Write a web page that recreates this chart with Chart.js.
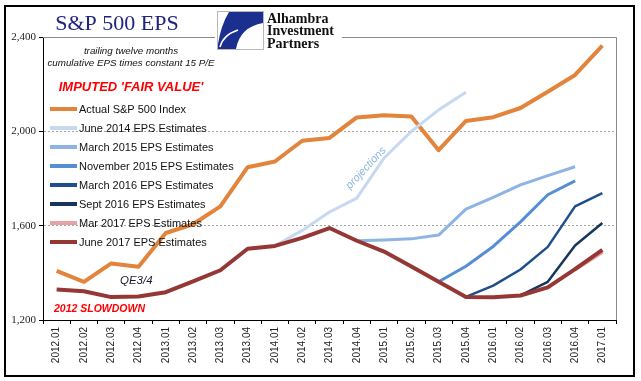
<!DOCTYPE html>
<html>
<head>
<meta charset="utf-8">
<script src="https://cdn.jsdelivr.net/npm/chart.js@4.4.1/dist/chart.umd.min.js"></script>
<style>
  body { margin: 0; background: #fff; }
  #wrap { width: 641px; height: 381px; }
</style>
</head>
<body>
<div id="wrap"><canvas id="chart" width="641" height="381"></canvas></div>
<script>
// quarters on the x axis
const quarters = ["2012.01", "2012.02", "2012.03", "2012.04", "2013.01", "2013.02", "2013.03", "2013.04",
  "2014.01", "2014.02", "2014.03", "2014.04", "2015.01", "2015.02", "2015.03", "2015.04",
  "2016.01", "2016.02", "2016.03", "2016.04", "2017.01"];

const yTicks = [1200, 1600, 2000, 2400];

// quarter-end S&P 500 index
const actualIndex = [1408, 1362, 1440, 1426, 1569, 1606, 1682, 1848, 1872, 1960, 1972, 2059,
  2068, 2063, 1920, 2044, 2060, 2099, 2168, 2239, 2363];

// trailing EPS x 15, by estimate vintage
const estJun2014 = [null, null, null, null, null, null, null, null, 1515, 1580, 1658, 1717,
  1887, 2000, 2091, 2166, null, null, null, null, null];
const estMar2015 = [null, null, null, null, null, null, null, null, null, null, null, 1536,
  1539, 1544, 1560, 1670, 1720, 1773, 1812, 1850, null];
const estNov2015 = [null, null, null, null, null, null, null, null, null, null, null, null,
  null, null, 1362, 1428, 1512, 1616, 1731, 1790, null];
const estMar2016 = [null, null, null, null, null, null, null, null, null, null, null, null,
  null, null, null, 1298, 1346, 1414, 1510, 1682, 1738];
const estSep2016 = [null, null, null, null, null, null, null, null, null, null, null, null,
  null, null, null, null, null, 1304, 1362, 1516, 1611];
const estMar2017 = [null, null, null, null, null, null, null, null, null, null, null, null,
  null, null, null, null, null, null, null, 1416, 1490];
const estJun2017 = [1329, 1322, 1297, 1300, 1318, 1364, 1411, 1502, 1514, 1548, 1590, 1536,
  1490, 1427, 1362, 1298, 1296, 1304, 1338, 1416, 1497];

function series(label, data, color, width, order) {
  return {
    label: label, data: data, borderColor: color, backgroundColor: color,
    borderWidth: width, pointRadius: 0, tension: 0, order: order,
    borderJoinStyle: "round", spanGaps: false
  };
}

const legendBox = {
  id: "legendBox",
  afterDatasetsDraw(chart) {
    const ctx = chart.ctx;
    ctx.save();
    ctx.font = "11px 'Liberation Sans', Arial, sans-serif";
    ctx.textBaseline = "middle";
    chart.data.datasets.forEach(function (ds, i) {
      const y = 109 + i * 19;
      ctx.strokeStyle = ds.borderColor;
      ctx.lineWidth = 4;
      ctx.beginPath();
      ctx.moveTo(50, y);
      ctx.lineTo(77, y);
      ctx.stroke();
      ctx.fillStyle = "#111";
      ctx.fillText(ds.label, 79, y + 0.5);
    });
    ctx.restore();
  }
};

const notes = {
  id: "notes",
  afterDraw(chart) {
    const ctx = chart.ctx;
    const a = chart.chartArea;
    ctx.save();

    // plot frame, top and right
    ctx.strokeStyle = "#8a8a8a";
    ctx.lineWidth = 1;
    ctx.beginPath();
    ctx.moveTo(a.left, Math.round(a.top) + 0.5);
    ctx.lineTo(Math.round(a.right) + 0.5, Math.round(a.top) + 0.5);
    ctx.lineTo(Math.round(a.right) + 0.5, a.bottom);
    ctx.stroke();

    // outer border
    ctx.strokeStyle = "#000";
    ctx.lineWidth = 2;
    ctx.strokeRect(5, 6, 629, 370);

    // title
    ctx.fillStyle = "#20247f";
    ctx.font = "22px 'Liberation Serif', 'DejaVu Serif', serif";
    ctx.textAlign = "center";
    ctx.textBaseline = "alphabetic";
    ctx.fillText("S&P 500 EPS", 117, 30);

    // logo
    ctx.fillStyle = "#fff";
    ctx.fillRect(215, 9, 127, 42);
    ctx.strokeStyle = "#b8b8b8";
    ctx.lineWidth = 1;
    ctx.strokeRect(217.5, 11.5, 46, 38);
    ctx.fillStyle = "#1b2f8f";
    ctx.beginPath();
    ctx.moveTo(229, 12);
    ctx.lineTo(263, 12);
    ctx.lineTo(263, 23);
    ctx.quadraticCurveTo(240, 27, 236, 49);
    ctx.lineTo(218, 49);
    ctx.lineTo(218, 44);
    ctx.quadraticCurveTo(221, 25, 229, 12);
    ctx.closePath();
    ctx.fill();
    ctx.strokeStyle = "#fff";
    ctx.lineWidth = 1.5;
    ctx.beginPath();
    ctx.moveTo(220, 47);
    ctx.quadraticCurveTo(223, 35, 238, 30);
    ctx.stroke();
    ctx.fillStyle = "#111";
    ctx.font = "bold 14px 'Liberation Serif', 'DejaVu Serif', serif";
    ctx.textAlign = "left";
    ctx.fillText("Alhambra", 267, 23);
    ctx.fillText("Investment", 267, 35);
    ctx.fillText("Partners", 267, 48);

    // subtitle notes
    ctx.textAlign = "center";
    ctx.textBaseline = "middle";
    ctx.fillStyle = "#111";
    ctx.font = "italic 9.8px 'Liberation Sans', Arial, sans-serif";
    ctx.fillText("trailing twelve months", 131, 51);
    ctx.fillText("cumulative EPS times constant 15 P/E", 131, 63);
    ctx.fillStyle = "#ff0000";
    ctx.font = "italic bold 13px 'Liberation Sans', Arial, sans-serif";
    ctx.fillText("IMPUTED 'FAIR VALUE'", 131, 87);

    ctx.textAlign = "left";
    ctx.font = "italic bold 10.5px 'Liberation Sans', Arial, sans-serif";
    ctx.fillText("2012 SLOWDOWN", 54, 309);
    ctx.fillStyle = "#1a1a2e";
    ctx.font = "italic 11.5px 'Liberation Sans', Arial, sans-serif";
    ctx.fillText("QE3/4", 120, 281);

    // projections label
    ctx.translate(366, 168);
    ctx.rotate(-47 * Math.PI / 180);
    ctx.textAlign = "center";
    ctx.fillStyle = "#8db4e2";
    ctx.font = "italic 11px 'Liberation Sans', Arial, sans-serif";
    ctx.fillText("projections", 0, 0);
    ctx.restore();
  }
};

new Chart(document.getElementById("chart"), {
  type: "line",
  data: {
    labels: quarters,
    datasets: [
      series("Actual S&P 500 Index", actualIndex, "#e2843b", 4, 7),
      series("June 2014 EPS Estimates", estJun2014, "#c6d9f1", 3, 6),
      series("March 2015 EPS Estimates", estMar2015, "#8db4e2", 3, 5),
      series("November 2015 EPS Estimates", estNov2015, "#558ed5", 3, 4),
      series("March 2016 EPS Estimates", estMar2016, "#1f4e8c", 2.5, 3),
      series("Sept 2016 EPS Estimates", estSep2016, "#17365d", 2.5, 2),
      series("Mar 2017 EPS Estimates", estMar2017, "#e6a3a3", 4.5, 1),
      series("June 2017 EPS Estimates", estJun2017, "#953735", 4, 0)
    ]
  },
  options: {
    responsive: false,
    animation: false,
    layout: { padding: { left: 0, top: 37, right: 25, bottom: 0 } },
    plugins: {
      legend: { display: false },
      tooltip: { enabled: false }
    },
    scales: {
      x: {
        type: "category",
        offset: true,
        afterFit: function (scale) { scale.height = 61; },
        grid: { offset: true, drawOnChartArea: false, color: "#000", tickColor: "#000", tickLength: 4 },
        border: { display: true, color: "#000", width: 1 },
        ticks: {
          autoSkip: false, minRotation: 90, maxRotation: 90, padding: 3,
          color: "#222",
          font: { family: "'Liberation Sans Narrow', 'Liberation Sans', Arial, sans-serif", size: 10 }
        }
      },
      y: {
        min: yTicks[0],
        max: yTicks[yTicks.length - 1],
        afterFit: function (scale) { scale.width = 43; },
        afterBuildTicks: function (scale) { scale.ticks = yTicks.map(function (v) { return { value: v }; }); },
        grid: {
          color: function (c) {
            return (c.tick && c.tick.value > yTicks[0] && c.tick.value < yTicks[yTicks.length - 1]) ? "#a6a6a6" : "rgba(0,0,0,0)";
          },
          tickColor: "#000", tickLength: 4
        },
        border: { display: true, color: "#000", width: 1, dash: [2, 2] },
        ticks: {
          padding: 3, color: "#222",
          font: { family: "'Liberation Serif', 'DejaVu Serif', serif", size: 11 },
          callback: function (v) { return v.toLocaleString("en-US"); }
        }
      }
    }
  },
  plugins: [legendBox, notes]
});
</script>
</body>
</html>
